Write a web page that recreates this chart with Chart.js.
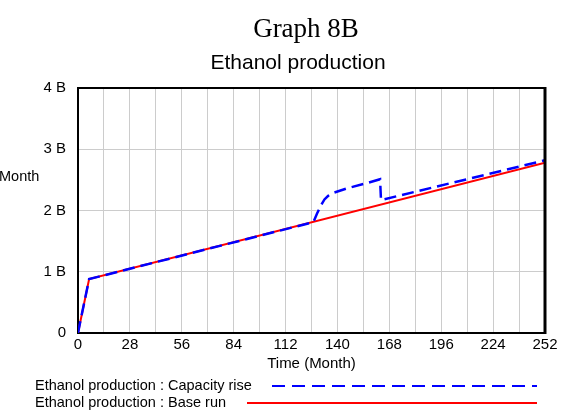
<!DOCTYPE html>
<html>
<head>
<meta charset="utf-8">
<script src="https://cdn.jsdelivr.net/npm/chart.js@4"></script>
<style>
  html, body { margin: 0; padding: 0; background: #fff; }
  #wrap { width: 567px; height: 415px; }
</style>
</head>
<body>
<div id="wrap"><canvas id="ethanolChart" width="567" height="415"></canvas></div>
<script>
// time in months, values in units (B = billion)
const baseTime = [0, 6, 252];
const baseValues = [0, 0.88e9, 2.78e9];

const capTime = [0, 1, 6, 127, 129, 131, 133, 135, 138, 145, 155, 163, 163.5, 252];
const capValues = [0, 0.15e9, 0.88e9, 1.81e9, 1.95e9, 2.08e9, 2.18e9, 2.24e9, 2.29e9, 2.36e9, 2.44e9, 2.51e9, 2.17e9, 2.82e9];

const yTicks = [0, 1e9, 2e9, 3e9, 4e9];
const yTickLabels = ["0", "1 B", "2 B", "3 B", "4 B"];

const seriesNames = ["Ethanol production : Capacity rise", "Ethanol production : Base run"];

const sans = "'Liberation Sans', Arial, sans-serif";

function toPoints(t, v) {
  return t.map((x, i) => ({ x: x, y: v[i] }));
}

// titles, clipped y label, box border and legend drawn on the canvas
const extras = {
  id: "extras",
  afterDraw(chart) {
    const { ctx, chartArea } = chart;
    ctx.save();
    ctx.fillStyle = "#000";
    ctx.textBaseline = "middle";
    ctx.textAlign = "center";
    ctx.font = "27px 'Liberation Serif', 'Times New Roman', serif";
    ctx.fillText("Graph 8B", 306, 30);
    ctx.font = "21px " + sans;
    ctx.fillText("Ethanol production", 298, 63);

    ctx.textAlign = "left";
    ctx.font = "14.5px " + sans;
    ctx.fillText("Month", -1, 177);

    // frame
    ctx.strokeStyle = "#000";
    ctx.lineWidth = 2;
    ctx.beginPath();
    ctx.moveTo(chartArea.left, chartArea.top);
    ctx.lineTo(chartArea.right, chartArea.top);
    ctx.stroke();
    ctx.lineWidth = 3;
    ctx.beginPath();
    ctx.moveTo(chartArea.right, chartArea.top - 1);
    ctx.lineTo(chartArea.right, chartArea.bottom + 1);
    ctx.stroke();

    // legend
    ctx.font = "14.5px " + sans;
    ctx.fillText(seriesNames[0], 35, 386);
    ctx.fillText(seriesNames[1], 35, 403);
    ctx.lineWidth = 2;
    ctx.strokeStyle = "#0000ff";
    ctx.setLineDash([13, 7]);
    ctx.beginPath();
    ctx.moveTo(272, 386);
    ctx.lineTo(537, 386);
    ctx.stroke();
    ctx.setLineDash([]);
    ctx.strokeStyle = "#ff0000";
    ctx.beginPath();
    ctx.moveTo(247, 403);
    ctx.lineTo(537, 403);
    ctx.stroke();
    ctx.restore();
  }
};

const ctx = document.getElementById("ethanolChart").getContext("2d");
const ethanolChart = new Chart(ctx, {
  type: "line",
  data: {
    datasets: [
      {
        label: seriesNames[0],
        data: toPoints(capTime, capValues),
        borderColor: "#0000ff",
        borderWidth: 2.5,
        borderDash: [12, 6],
        pointRadius: 0,
        fill: false,
      },
      {
        label: seriesNames[1],
        data: toPoints(baseTime, baseValues),
        borderColor: "#ff0000",
        borderWidth: 2,
        pointRadius: 0,
        fill: false,
      },
    ],
  },
  plugins: [extras],
  options: {
    responsive: false,
    animation: false,
    layout: { padding: { left: 0, right: 22, top: 88, bottom: 42 } },
    plugins: {
      legend: { display: false },
      tooltip: { enabled: false },
    },
    scales: {
      x: {
        type: "linear",
        min: 0,
        max: 252,
        afterBuildTicks(scale) {
          const t = [];
          for (let v = 0; v <= 252; v += 14) t.push({ value: v });
          scale.ticks = t;
        },
        afterFit(scale) { scale.height = 40; },
        grid: { color: "#cccccc", lineWidth: 1, drawTicks: false },
        border: { color: "#000", width: 2 },
        ticks: {
          color: "#000",
          font: { family: sans, size: 15 },
          padding: 3,
          maxRotation: 0,
          autoSkip: false,
          callback: (v) => (v % 28 === 0 ? String(v) : ""),
        },
        title: {
          display: true,
          text: "Time (Month)",
          color: "#000",
          font: { family: sans, size: 15 },
          padding: { top: -2, bottom: 0 },
        },
      },
      y: {
        min: 0,
        max: 4e9,
        afterBuildTicks(scale) {
          scale.ticks = yTicks.map((v) => ({ value: v }));
        },
        afterFit(scale) { scale.width = 78; },
        grid: { color: "#cccccc", lineWidth: 1, drawTicks: false },
        border: { color: "#000", width: 2 },
        ticks: {
          color: "#000",
          font: { family: sans, size: 15 },
          padding: 12,
          callback: (v) => yTickLabels[yTicks.indexOf(v)],
        },
      },
    },
  },
});
</script>
</body>
</html>
